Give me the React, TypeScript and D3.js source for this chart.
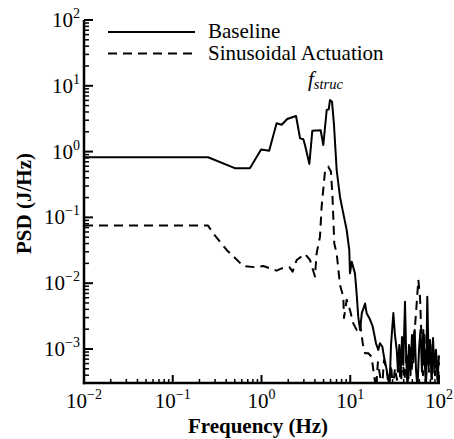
import React from "react";
import * as d3 from "d3";

const baselineFreq = [0.01, 0.25, 0.5, 0.74, 0.99, 1.22, 1.48, 1.69, 1.95, 2.45, 2.72, 2.96, 3.09, 3.46, 3.74, 4.64, 4.97, 5.43, 5.72, 5.91, 6.23, 6.56, 7.03, 7.66, 8.35, 9.12, 9.75, 9.93, 10.4, 11.3, 11.8, 12.3, 12.9, 13.5, 14.7, 15.3, 16.7, 17.9, 19.5, 20.7, 21.6, 23.0, 24.0, 25.3, 26.6, 27.7, 28.8, 30.6, 31.9, 33.4, 34.5, 35.7, 37.0, 38.3, 39.6, 41.4, 42.8, 44.2, 45.9, 47.7, 49.6, 51.3, 53.2, 55.1, 57.2, 59.5, 61.9, 64.3, 66.5, 69.0, 71.4, 73.8, 76.6, 79.2, 82.3, 85.6, 89.0, 92.5, 96.2, 100];
const baselinePSD = [0.82, 0.82, 0.56, 0.56, 1.08, 1.03, 2.69, 2.56, 3.13, 3.48, 1.59, 1.54, 1.26, 0.65, 2.08, 2.11, 1.26, 4.29, 4.38, 6.08, 5.73, 2.54, 0.525, 0.206, 0.115, 0.064, 0.032, 0.0141, 0.0212, 0.0141, 0.007, 0.0031, 0.00195, 0.0035, 0.0049, 0.0035, 0.0028, 0.0022, 0.00122, 0.00097, 0.00122, 0.00108, 0.00076, 0.00054, 0.00039, 0.00025, 0.00115, 0.00352, 0.00163, 0.00097, 0.00045, 0.00115, 0.0004, 0.00152, 0.00057, 0.0052, 0.00068, 0.00025, 0.00115, 0.0004, 0.00163, 0.00063, 0.00195, 0.00048, 0.00025, 0.00097, 0.00195, 0.00045, 0.00195, 0.00068, 0.00025, 0.0062, 0.00057, 0.00137, 0.00036, 0.00147, 0.00045, 0.00097, 0.00034, 0.0008];

const actuationFreq = [0.01, 0.25, 0.286, 0.405, 0.624, 0.845, 1.05, 1.48, 1.69, 2.06, 2.24, 2.49, 3.09, 3.52, 4.0, 4.18, 4.56, 4.76, 5.19, 5.66, 6.07, 6.33, 6.61, 7.03, 7.66, 8.35, 8.5, 9.12, 9.93, 10.8, 11.8, 12.9, 14.0, 14.7, 16.0, 17.4, 18.2, 19.5, 20.5, 21.6, 22.8, 24.0, 25.7, 27.3, 28.8, 30.3, 31.9, 33.6, 35.4, 37.0, 38.8, 40.9, 43.3, 45.3, 47.1, 49.3, 51.6, 53.7, 56.1, 58.5, 61.1, 63.8, 66.0, 68.6, 71.4, 74.2, 77.1, 80.2, 83.4, 86.7, 90.1, 93.7, 97.4, 100];
const actuationPSD = [0.075, 0.075, 0.057, 0.032, 0.0182, 0.0175, 0.0182, 0.0155, 0.0168, 0.0175, 0.015, 0.0225, 0.0278, 0.0225, 0.0126, 0.0284, 0.051, 0.146, 0.495, 0.59, 0.495, 0.184, 0.04, 0.0284, 0.0094, 0.0062, 0.00296, 0.0056, 0.0039, 0.00246, 0.00195, 0.00246, 0.00108, 0.00086, 0.00086, 0.00076, 0.00048, 0.00025, 0.00063, 0.0004, 0.00025, 0.00068, 0.00048, 0.00025, 0.00057, 0.00025, 0.00051, 0.00034, 0.00081, 0.00025, 0.00073, 0.00034, 0.0009, 0.00036, 0.00104, 0.00048, 0.00137, 0.00224, 0.005, 0.0112, 0.0062, 0.00123, 0.0004, 0.00163, 0.00034, 0.00097, 0.00045, 0.00115, 0.00034, 0.00097, 0.0004, 0.00081, 0.00028, 0.00063];

const xMajorTicks = [0.01, 0.1, 1, 10, 100];
const xTickExponents = ["−2", "−1", "0", "1", "2"];
const yMajorTicks = [100, 10, 1, 0.1, 0.01, 0.001];
const yTickExponents = ["2", "1", "0", "−1", "−2", "−3"];
const legendLabels = ["Baseline", "Sinusoidal Actuation"];

const FONT = "Liberation Serif, Tinos, Times New Roman, Times, DejaVu Serif, serif";

export default function App() {
  const left = 84, right = 439, top = 20, bottom = 383;
  const x = d3.scaleLog().domain([0.01, 100]).range([left, right]);
  const y = d3.scaleLog().domain([3.04e-4, 100]).range([bottom, top]);

  const line = d3
    .line<[number, number]>()
    .x((d) => x(d[0]))
    .y((d) => y(d[1]));

  const basePts = baselineFreq.map((f, i) => [f, baselinePSD[i]] as [number, number]);
  const actPts = actuationFreq.map((f, i) => [f, actuationPSD[i]] as [number, number]);

  const xMinor: number[] = [];
  for (let e = -2; e < 2; e++) for (let k = 2; k <= 9; k++) xMinor.push(k * Math.pow(10, e));
  const yMinor: number[] = [];
  for (let e = -4; e < 2; e++)
    for (let k = 2; k <= 9; k++) {
      const v = k * Math.pow(10, e);
      if (v > 3.04e-4 && v < 100) yMinor.push(v);
    }

  return (
    <svg width={454} height={439} style={{ display: "block", position: "absolute", left: 0, top: 0, fontFamily: FONT }}>
      <rect width={454} height={439} fill="#fff" />
      <defs>
        <clipPath id="plot">
          <rect x={left} y={top} width={right - left + 2} height={bottom - top} />
        </clipPath>
      </defs>
      <g clipPath="url(#plot)" fill="none" stroke="#000" strokeLinejoin="round">
        <path d={line(basePts) || ""} strokeWidth={2} />
        <path d={line(actPts) || ""} strokeWidth={2} strokeDasharray="9,6" />
      </g>

      <g stroke="#000">
        {xMinor.map((t) => (
          <line key={"xm" + t} x1={x(t)} x2={x(t)} y1={bottom} y2={bottom - 4} strokeWidth={1.5} />
        ))}
        {xMajorTicks.map((t) => (
          <line key={"xM" + t} x1={x(t)} x2={x(t)} y1={bottom} y2={bottom - 8} strokeWidth={2} />
        ))}
        {yMinor.map((t) => (
          <line key={"ym" + t} x1={left} x2={left + 5} y1={y(t)} y2={y(t)} strokeWidth={1.5} />
        ))}
        {yMajorTicks.map((t) => (
          <line key={"yM" + t} x1={left} x2={left + 9} y1={y(t)} y2={y(t)} strokeWidth={2} />
        ))}
        <line x1={left} x2={left} y1={top} y2={bottom + 1.2} strokeWidth={2.5} />
        <line x1={left - 1.2} x2={right + 1} y1={bottom} y2={bottom} strokeWidth={2.5} />
      </g>

      <g fontSize={21} fill="#000">
        {xMajorTicks.map((t, i) => (
          <text key={"xl" + t} x={x(t)} y={408} textAnchor="middle">
            10
            <tspan fontSize={14} dy={-9}>{xTickExponents[i]}</tspan>
          </text>
        ))}
        {yMajorTicks.map((t, i) => (
          <text key={"yl" + t} x={80} y={y(t) + 7} textAnchor="end">
            10
            <tspan fontSize={14} dy={-9}>{yTickExponents[i]}</tspan>
          </text>
        ))}
      </g>

      <text x={258} y={433} textAnchor="middle" fontSize={21} fontWeight="bold">
        Frequency (Hz)
      </text>
      <text transform={`translate(31, ${(top + bottom) / 2 + 2}) rotate(-90)`} textAnchor="middle" fontSize={21} fontWeight="bold">
        PSD (J/Hz)
      </text>

      <g>
        <line x1={108} x2={195} y1={32} y2={32} stroke="#000" strokeWidth={2} />
        <line x1={108} x2={195} y1={53.5} y2={53.5} stroke="#000" strokeWidth={2} strokeDasharray="9,6" />
        <text x={208} y={38} fontSize={21}>{legendLabels[0]}</text>
        <text x={208} y={60} fontSize={21}>{legendLabels[1]}</text>
      </g>

      <text x={308} y={86} fontSize={21} fontStyle="italic">
        f<tspan fontSize={14.5} dy={3}>struc</tspan>
      </text>
    </svg>
  );
}
